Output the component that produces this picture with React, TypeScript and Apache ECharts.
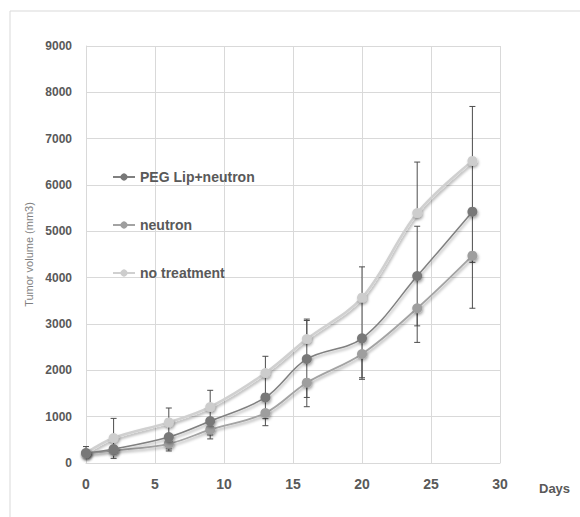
import React, { useEffect, useRef } from "react";
import * as echarts from "echarts";

const days = [0, 2, 6, 9, 13, 16, 20, 24, 28];
const pegLip = [215, 300, 560, 905, 1415, 2245, 2690, 4035, 5425];
const neutron = [205, 265, 415, 720, 1080, 1733, 2353, 3339, 4475];
const noTreatment = [215, 540, 876, 1209, 1943, 2676, 3568, 5395, 6520];

const pegErrPlus = [50, 200, 300, 300, 458, 830, 850, 1075, 1095];
const pegErrMinus = [50, 200, 300, 300, 458, 830, 850, 1075, 1095];
const neutronErrPlus = [0, 0, 0, 0, 0, 0, 0, 0, 0];
const neutronErrMinus = [30, 60, 110, 200, 275, 518, 547, 736, 1135];
const ntErrPlus = [140, 423, 311, 360, 360, 430, 665, 1100, 1175];
const ntErrMinus = [0, 0, 0, 0, 0, 0, 0, 0, 0];

const seriesNames = ["PEG Lip+neutron", "neutron", "no treatment"];

const errData = (ys: number[], plus: number[], minus: number[]) =>
  days.map((d, i) => [d, ys[i], plus[i], minus[i]]);

const renderErr = (params: any, api: any) => {
  const x = api.value(0);
  const y = api.value(1);
  const p = api.value(2);
  const m = api.value(3);
  const children: any[] = [];
  const style = { stroke: "#4d4d4d", lineWidth: 1 };
  const center = api.coord([x, y]);
  const cap = 3;
  if (p > 0) {
    const top = api.coord([x, y + p]);
    children.push({ type: "line", shape: { x1: center[0], y1: center[1], x2: top[0], y2: top[1] }, style });
    children.push({ type: "line", shape: { x1: top[0] - cap, y1: top[1], x2: top[0] + cap, y2: top[1] }, style });
  }
  if (m > 0) {
    const bot = api.coord([x, y - m]);
    children.push({ type: "line", shape: { x1: center[0], y1: center[1], x2: bot[0], y2: bot[1] }, style });
    children.push({ type: "line", shape: { x1: bot[0] - cap, y1: bot[1], x2: bot[0] + cap, y2: bot[1] }, style });
  }
  return { type: "group", children };
};

export default function App() {
  const ref = useRef<HTMLDivElement>(null);
  useEffect(() => {
    if (!ref.current) return;
    const chart = echarts.init(ref.current, undefined, { renderer: "svg" });
    const labelColor = "#595959";
    const gridColor = "#d9d9d9";
    const shadow = { shadowBlur: 3, shadowColor: "rgba(0,0,0,0.35)", shadowOffsetY: 2, shadowOffsetX: 1 };
    chart.setOption({
      animation: false,
      backgroundColor: "#ffffff",
      textStyle: { fontFamily: "Liberation Sans" },
      graphic: [
        {
          type: "rect",
          shape: { x: 10, y: 11, width: 620, height: 620 },
          style: { fill: "none", stroke: gridColor, lineWidth: 1 },
          silent: true,
        },
        {
          type: "text",
          left: 539,
          top: 482,
          style: { text: "Days", fontSize: 13, fontWeight: "bold", fill: labelColor, fontFamily: "Liberation Sans" },
        },
      ],
      grid: { left: 86, top: 46, right: 80, bottom: 54, containLabel: false },
      legend: {
        data: seriesNames,
        orient: "vertical",
        left: 107,
        top: 165,
        itemWidth: 22,
        itemHeight: 9,
        itemGap: 34,
        textStyle: { fontSize: 14, fontWeight: "bold", color: labelColor, fontFamily: "Liberation Sans" },
      },
      xAxis: {
        type: "value",
        min: 0,
        max: 30,
        interval: 5,
        axisLine: { show: true, lineStyle: { color: gridColor } },
        axisTick: { show: false },
        splitLine: { show: true, lineStyle: { color: gridColor, width: 1 } },
        axisLabel: { fontSize: 14, fontWeight: "bold", color: labelColor, margin: 14 },
      },
      yAxis: {
        type: "value",
        min: 0,
        max: 9000,
        interval: 1000,
        name: "Tumor volume (mm3)",
        nameLocation: "middle",
        nameGap: 44,
        nameRotate: 90,
        nameTextStyle: { fontSize: 11, color: "#7f7f7f", fontFamily: "Liberation Sans" },
        axisLine: { show: true, lineStyle: { color: gridColor } },
        axisTick: { show: false },
        splitLine: { show: true, lineStyle: { color: gridColor, width: 1 } },
        axisLabel: {
          fontSize: 12,
          fontWeight: "bold",
          color: labelColor,
          margin: 14,
          formatter: (v: number) => String(v),
        },
      },
      series: [
        {
          type: "custom",
          renderItem: renderErr,
          data: errData(noTreatment, ntErrPlus, ntErrMinus),
          z: 1,
          silent: true,
        },
        {
          type: "custom",
          renderItem: renderErr,
          data: errData(pegLip, pegErrPlus, pegErrMinus),
          z: 1,
          silent: true,
        },
        {
          type: "custom",
          renderItem: renderErr,
          data: errData(neutron, neutronErrPlus, neutronErrMinus),
          z: 1,
          silent: true,
        },
        {
          name: "no treatment",
          type: "line",
          smooth: 0.35,
          data: days.map((d, i) => [d, noTreatment[i]]),
          symbol: "circle",
          symbolSize: 10,
          lineStyle: { color: "#d0d0d0", width: 2.5, ...shadow },
          itemStyle: { color: "#cdcdcd", ...shadow },
          z: 2,
        },
        {
          name: "neutron",
          type: "line",
          smooth: 0.35,
          data: days.map((d, i) => [d, neutron[i]]),
          symbol: "circle",
          symbolSize: 10,
          lineStyle: { color: "#a3a3a3", width: 1.8, ...shadow },
          itemStyle: { color: "#9e9e9e", ...shadow },
          z: 3,
        },
        {
          name: "PEG Lip+neutron",
          type: "line",
          smooth: 0.35,
          data: days.map((d, i) => [d, pegLip[i]]),
          symbol: "circle",
          symbolSize: 10,
          lineStyle: { color: "#808080", width: 1.5, ...shadow },
          itemStyle: { color: "#787878", ...shadow },
          z: 4,
        },
      ],
    });
    return () => chart.dispose();
  }, []);
  return <div ref={ref} style={{ width: 580, height: 517, position: "absolute", left: 0, top: 0 }} />;
}
